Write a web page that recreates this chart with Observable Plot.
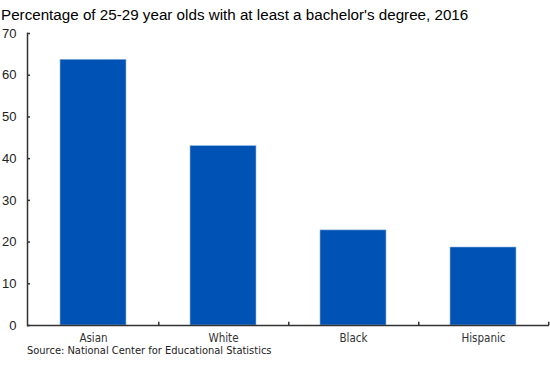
<!DOCTYPE html>
<html>
<head>
<meta charset="utf-8">
<script src="https://cdn.jsdelivr.net/npm/d3@7"></script>
<script src="https://cdn.jsdelivr.net/npm/@observablehq/plot@0.6"></script>
<style>
  body { margin: 0; background: #fff; width: 550px; height: 365px; overflow: hidden; position: relative; }
  #title { font-family: "Liberation Sans", Arial, sans-serif; font-size: 15.2px; line-height: 20px; padding-top: 5px; padding-left: 1px; color: #000; white-space: nowrap; }
  #caption { position: absolute; left: 27px; top: 345px; font-family: "DejaVu Sans Condensed", "DejaVu Sans", Verdana, sans-serif; font-stretch: condensed; font-size: 11px; line-height: 12px; color: #222; white-space: nowrap; }
</style>
</head>
<body>
<div id="title">Percentage of 25-29 year olds with at least a bachelor's degree, 2016</div>
<div id="chart"></div>
<div id="caption">Source: National Center for Educational Statistics</div>
<script>
const categories = ["Asian", "White", "Black", "Hispanic"];
const values = [63.7, 43.0, 22.8, 18.7];
const yTicks = [0, 10, 20, 30, 40, 50, 60, 70];

const data = categories.map((c, i) => ({category: c, value: values[i]}));

const width = 550, marginLeft = 27, marginRight = 1;
const step = (width - marginLeft - marginRight) / categories.length;

const chart = Plot.plot({
  width,
  height: 320,
  marginTop: 8,
  marginBottom: 20,
  marginLeft,
  marginRight,
  x: {domain: categories, paddingInner: 0.49, paddingOuter: 0.245, label: null},
  y: {domain: [0, 70], label: null},
  marks: [
    Plot.barY(data, {x: "category", y: "value", fill: "#0053b4", stroke: "#9ab8e0", strokeWidth: 0.6}),
    Plot.axisY({ticks: yTicks, tickSize: -3, tickPadding: 14, stroke: "#333", strokeWidth: 1.5, fill: "#222"}),
    Plot.axisX({tickSize: 0, tickPadding: 8, fill: "#333"}),
    Plot.ruleX(categories, {x: d => d, y1: 0, y2: 0.8, dx: step / 2, stroke: "#333", strokeWidth: 1.5}),
    Plot.frame({anchor: "left", stroke: "#333", strokeWidth: 1.5}),
    Plot.ruleY([0], {stroke: "#333", strokeWidth: 1.5})
  ]
});
d3.select(chart).selectAll('g[aria-label="y-axis tick label"]')
  .attr("font-size", 13).style("font-size", "13px")
  .attr("font-family", "Liberation Sans, Arial, sans-serif").style("font-family", "'Liberation Sans', Arial, sans-serif");
d3.select(chart).selectAll('g[aria-label="x-axis tick label"]')
  .attr("font-size", 11.5).style("font-size", "11.5px")
  .style("font-family", "'DejaVu Sans Condensed', 'DejaVu Sans', Verdana, sans-serif").style("font-stretch", "condensed");
document.getElementById("chart").appendChild(chart);
</script>
</body>
</html>
